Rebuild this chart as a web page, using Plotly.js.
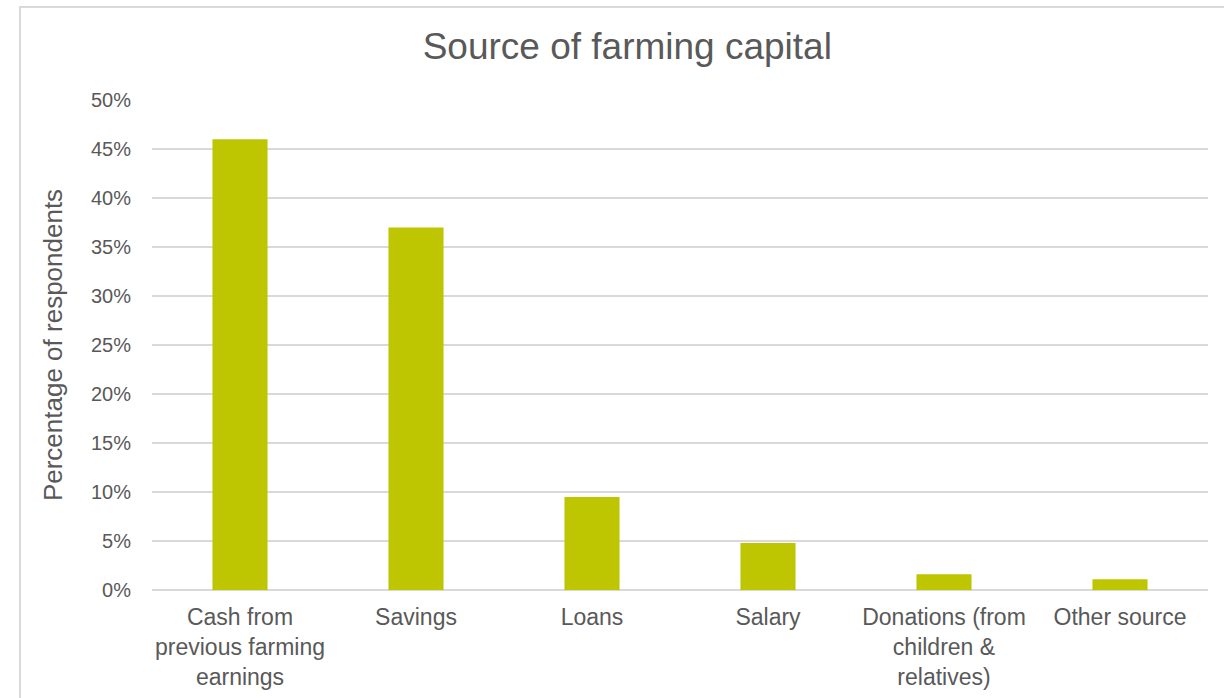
<!DOCTYPE html>
<html>
<head>
<meta charset="utf-8">
<script src="https://cdn.plot.ly/plotly-3.0.1.min.js"></script>
<style>
  html, body { margin: 0; padding: 0; background: #ffffff; }
  #wrap { position: relative; width: 1224px; height: 698px; overflow: hidden; }
  #chart { position: absolute; left: 0; top: 0; width: 1224px; height: 698px; }
  #frame { position: absolute; left: 19px; top: 6px; width: 1300px; height: 800px;
           border-left: 2px solid #d9d9d9; border-top: 2px solid #d9d9d9; pointer-events: none; }
</style>
</head>
<body>
<div id="wrap">
  <div id="chart"></div>
  <div id="frame"></div>
</div>
<script>
const categories = [
  "Cash from<br>previous farming<br>earnings",
  "Savings",
  "Loans",
  "Salary",
  "Donations (from<br>children &amp;<br>relatives)",
  "Other source"
];
const shares = [0.46, 0.37, 0.095, 0.048, 0.016, 0.011];
const tickValues = [0, 0.05, 0.10, 0.15, 0.20, 0.25, 0.30, 0.35, 0.40, 0.45, 0.50];
const tickLabels = ["0%", "5%", "10%", "15%", "20%", "25%", "30%", "35%", "40%", "45%", "50%"];

const FONT = "Liberation Sans, Arial, Helvetica, sans-serif";
const TXT = "#595959";

const data = [{
  type: "bar",
  x: categories,
  y: shares,
  marker: { color: "#bdc600", line: { width: 0 } },
  hoverinfo: "x+y"
}];

const layout = {
  width: 1224,
  height: 698,
  margin: { l: 152, r: 16, t: 100, b: 108 },
  paper_bgcolor: "#ffffff",
  plot_bgcolor: "#ffffff",
  showlegend: false,
  bargap: 0.687,
  font: { family: FONT, color: TXT },
  title: {
    text: "Source of farming capital",
    font: { family: FONT, size: 37, color: TXT },
    xref: "container", x: 0.5125, xanchor: "center",
    yref: "container", y: 0.934, yanchor: "middle"
  },
  xaxis: {
    type: "category",
    tickfont: { family: FONT, size: 23, color: TXT },
    showgrid: false,
    showline: false,
    ticks: "",
    ticklabelstandoff: 11,
    fixedrange: true
  },
  yaxis: {
    range: [0, 0.5],
    tickvals: tickValues,
    ticktext: tickLabels,
    tickfont: { family: FONT, size: 20, color: TXT },
    showgrid: true,
    gridcolor: "#d9d9d9",
    gridwidth: 1.5,
    zeroline: true,
    zerolinecolor: "#d9d9d9",
    zerolinewidth: 1.5,
    showline: false,
    ticks: "",
    ticklabelstandoff: 20,
    title: {
      text: "Percentage of respondents",
      font: { family: FONT, size: 26, color: TXT },
      standoff: 20
    },
    fixedrange: true
  }
};

Plotly.newPlot("chart", data, layout, { displayModeBar: false, staticPlot: true });
</script>
</body>
</html>
